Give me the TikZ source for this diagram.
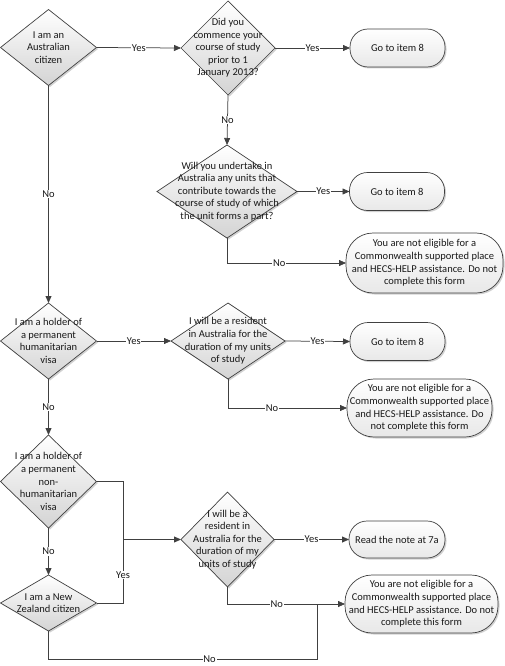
\documentclass[tikz,border=0pt]{standalone}
\usepackage{fontspec}
\setmainfont{Carlito}
\usetikzlibrary{shapes.geometric,arrows.meta,shadows}
\definecolor{linec}{HTML}{404040}
\begin{document}
\begin{tikzpicture}[x=1pt,y=-1pt,
  every path/.style={line width=0.75pt},
  txt/.style={align=center,font=\fontsize{10.5}{12.6}\selectfont,inner sep=0pt,text=black!90},
  shade/.style={drop shadow={shadow xshift=1.5pt,shadow yshift=-1.5pt,opacity=0.3,fill=black!60}},
  dia/.style={diamond,draw=linec,line width=0.7pt,top color=white,bottom color=black!17,
    inner sep=0pt,outer sep=0pt,shade},
  term/.style={rectangle,draw=linec,line width=0.7pt,top color=white,bottom color=black!9,
    inner sep=0pt,outer sep=0pt,align=center,font=\fontsize{10.5}{12.6}\selectfont,text=black!90,shade},
  small/.style={term,minimum width=95pt,minimum height=38pt,rounded corners=18pt},
  big/.style={term,rounded corners=27pt},
  conn/.style={draw=linec,line width=0.75pt},
  arr/.style={conn,-{Triangle[length=7pt,width=6pt]}},
  lab/.style={fill=white,inner sep=0.8pt,font=\fontsize{10.5}{12}\selectfont,text=black!90}
]
\useasboundingbox (0,0) rectangle (504,666);

% decisions
\node[dia,minimum width=96pt,minimum height=76pt,
  label={[txt]center:I am an\\Australian\\citizen}] (d1) at (48.5,47.5) {};
\node[dia,minimum width=94pt,minimum height=94pt,
  label={[txt]center:Did you\\commence your\\course of study\\prior to 1\\January 2013?}] (d2) at (228,48) {};
\node[dia,minimum width=140pt,minimum height=93pt,
  label={[txt]center:Will you undertake in\\Australia any units that\\contribute towards the\\course of study of which\\the unit forms a part?}] (d3) at (227,191.5) {};
\node[dia,minimum width=96pt,minimum height=76pt,
  label={[txt]center:I am a holder of\\a permanent\\humanitarian\\visa}] (d4) at (48.5,341) {};
\node[dia,minimum width=114pt,minimum height=76pt,
  label={[txt]center:I will be a resident\\in Australia for the\\duration of my units\\of study}] (d5) at (228,341) {};
\node[dia,minimum width=96pt,minimum height=93pt,
  label={[txt]center:I am a holder of\\a permanent\\non-\\humanitarian\\visa}] (d6) at (48.5,481.5) {};
\node[dia,minimum width=96pt,minimum height=56pt,
  label={[txt]center:I am a New\\Zealand citizen}] (d7) at (48.5,603) {};
\node[dia,minimum width=93pt,minimum height=95pt,
  label={[txt]center:I will be a\\resident in\\Australia for the\\duration of my\\units of study}] (d8) at (227.5,539.5) {};

% terminals
\node[small] (g1) at (397.5,48) {Go to item 8};
\node[small] (g2) at (397,191.5) {Go to item 8};
\node[small] (g3) at (397.5,341.5) {Go to item 8};
\node[small,minimum width=96pt,minimum height=37pt] (r7) at (397,539.5) {Read the note at 7a};
\node[big,minimum width=157pt,minimum height=60pt] (n1) at (424.5,263)
  {You are not eligible for a\\Commonwealth supported place\\and HECS-HELP assistance. Do not\\complete this form};
\node[big,minimum width=145pt,minimum height=58pt] (n2) at (419.5,408)
  {You are not eligible for a\\Commonwealth supported place\\and HECS-HELP assistance. Do\\not complete this form};
\node[big,minimum width=153pt,minimum height=58pt] (n3) at (421.5,604)
  {You are not eligible for a\\Commonwealth supported place\\and HECS-HELP assistance. Do not\\complete this form};

% junctions
\coordinate (j1) at (123,539.5);
\coordinate (j2) at (317,604);
\coordinate (j3) at (317,659);

% connectors
\draw[arr] (d1.east) -- node[lab]{Yes} (d2.west);
\draw[arr] (d2.east) -- node[lab]{Yes} (g1.west);
\draw[arr] (d2.south) -- node[lab]{No} (d3.north);
\draw[arr] (d3.east) -- node[lab]{Yes} (g2.west);
\draw[arr] (d3.south) |- node[lab,pos=0.72]{No} (n1.west);
\draw[arr] (d1.south) -- node[lab]{No} (d4.north);
\draw[arr] (d4.east) -- node[lab]{Yes} (d5.west);
\draw[arr] (d5.east) -- node[lab]{Yes} (g3.west);
\draw[arr] (d5.south) |- node[lab,pos=0.685]{No} (n2.west);
\draw[arr] (d4.south) -- node[lab]{No} (d6.north);
\draw[arr] (d6.south) -- node[lab]{No} (d7.north);
\draw[conn] (d6.east) -| (j1);
\draw[conn] (d7.east) -| node[lab,pos=0.72]{Yes} (j1);
\draw[arr] (j1) -- (d8.west);
\draw[arr] (d8.east) -- node[lab]{Yes} (r7.west);
\draw[arr] (d8.south) |- node[lab,pos=0.71]{No} (n3.west);
\draw[conn] (d7.south) |- node[lab,pos=0.8]{No} (j3) -- (j2);
\end{tikzpicture}
\end{document}
